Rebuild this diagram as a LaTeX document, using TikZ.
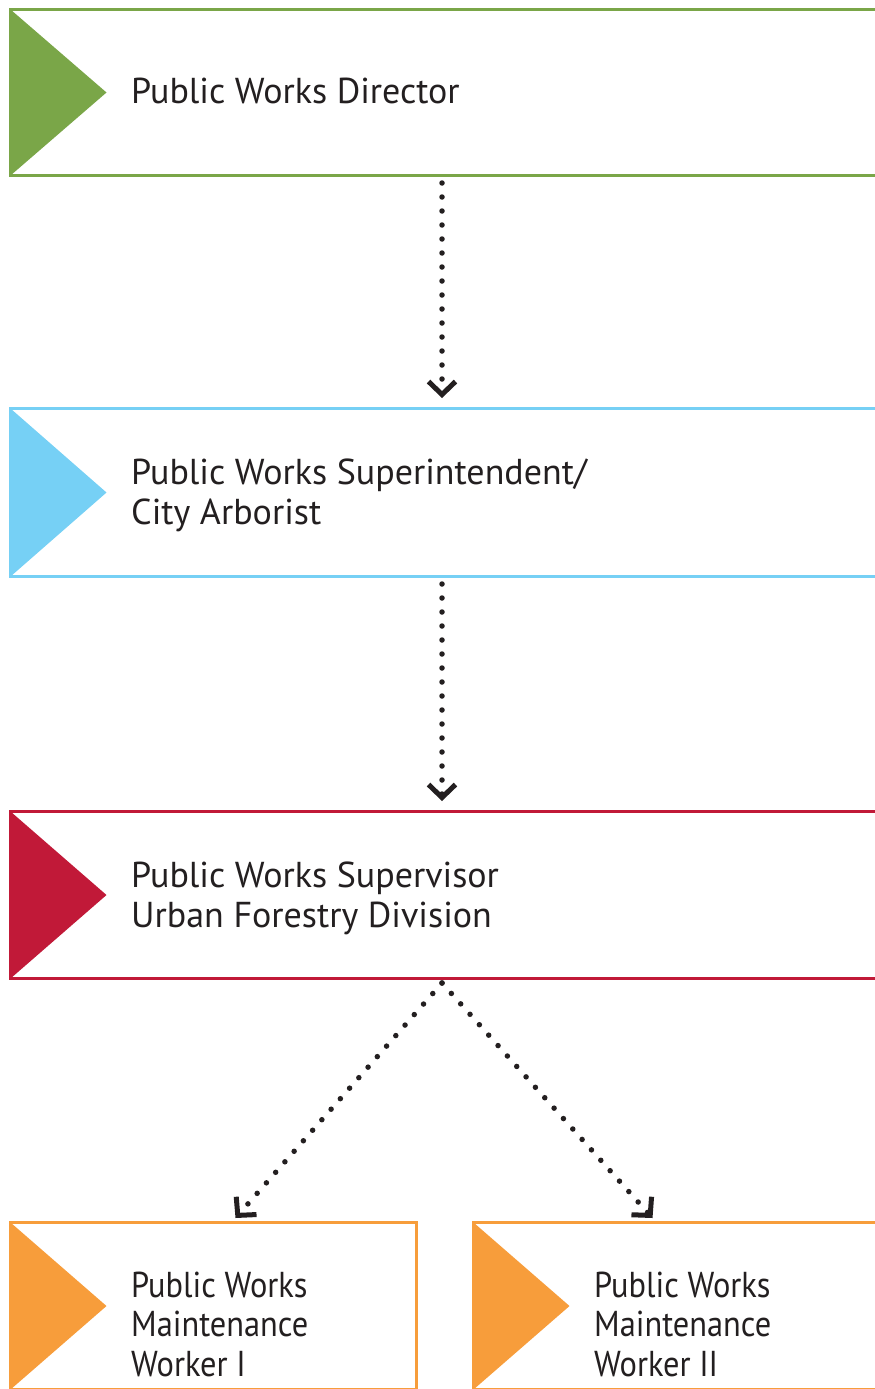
\documentclass[tikz,border=0pt]{standalone}
\usepackage{fontspec}
\setmainfont{PT Sans}
\newfontfamily\narrowfont[FakeStretch=0.9]{PT Sans}
\usetikzlibrary{arrows.meta,positioning}

\definecolor{dirgreen}{RGB}{122,166,72}
\definecolor{supblue}{RGB}{118,208,245}
\definecolor{visred}{RGB}{193,25,56}
\definecolor{workorange}{RGB}{247,157,59}
\definecolor{inkdark}{RGB}{35,31,32}

\tikzset{
  rolebox/.style={rectangle, draw=#1, fill=white, line width=3pt, inner sep=0pt,
    anchor=north west, minimum height=167pt,
    path picture={\fill[#1] (path picture bounding box.north west)
      -- (path picture bounding box.south west)
      -- ([xshift=96pt]path picture bounding box.west) -- cycle;}},
  rolename/.style={font=\fontsize{36}{40}\selectfont, text=inkdark, align=left,
    inner sep=0pt, anchor=base west},
  link/.style={draw=inkdark, line width=5.5pt, line cap=round, dash pattern=on 0pt off 14pt,
    -{Straight Barb[length=13pt,width=27pt,line width=5pt]}},
}

\begin{document}
\begin{tikzpicture}[x=1pt, y=-1pt]
\clip (0,0) rectangle (875,1389);

% ---------- boxes ----------
\node[rolebox=dirgreen, minimum width=880pt, minimum height=166pt] (dir) at (9,8) {};
\node[rolebox=supblue, minimum width=880pt, minimum height=168pt] (sup) at (9,407) {};
\node[rolebox=visred, minimum width=880pt] (vis) at (9,810) {};
\node[rolebox=workorange, minimum width=406pt] (wka) at (9,1221) {};
\node[rolebox=workorange, minimum width=420pt] (wkb) at (472,1221) {};

% ---------- titles (base = last line) ----------
\node[rolename] (dirname) at (131,103) {Public Works Director};
\node[rolename] (supname) at (131,524) {Public Works Superintendent/\\City Arborist};
\node[rolename] (visname) at (131,927) {Public Works Supervisor\\Urban Forestry Division};
\node[rolename, font=\narrowfont\fontsize{36}{39.5}\selectfont] (wkaname) at (131,1376) {Public Works\\Maintenance\\Worker I};
\node[rolename, font=\narrowfont\fontsize{36}{39.5}\selectfont] (wkbname) at (594,1376) {Public Works\\Maintenance\\Worker II};

% ---------- links ----------
\coordinate (spine) at (442,0);
\draw[link] ([yshift=-6pt]dir.south -| spine) -- ([yshift=9pt]sup.north -| spine);
\draw[link] ([yshift=-6pt]sup.south -| spine) -- ([yshift=9pt]vis.north -| spine);
\draw[link] ([yshift=-3pt]vis.south -| spine) -- ([xshift=22pt,yshift=3pt]wka.north);
\draw[link] ([yshift=-3pt]vis.south -| spine) -- ([xshift=-31pt,yshift=3pt]wkb.north);

\end{tikzpicture}
\end{document}
